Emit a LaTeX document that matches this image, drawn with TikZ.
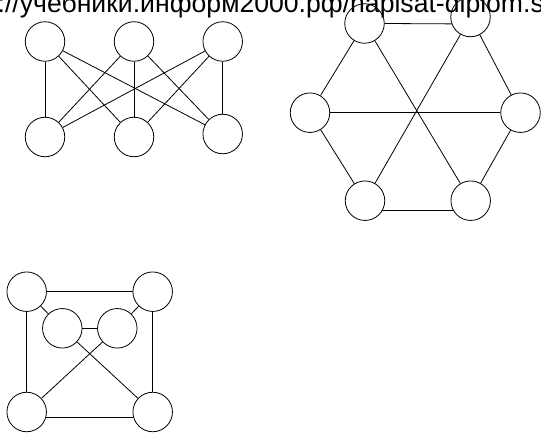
\documentclass[tikz,border=0pt]{standalone}
\usepackage{fontspec}
\newfontfamily\wmfont{Liberation Sans}
\begin{document}
\begin{tikzpicture}[x=1pt,y=-1pt,
  v/.style={circle,draw,minimum size=39.5pt,inner sep=0pt,line width=0.8pt},
  e/.style={line width=0.8pt}]
\useasboundingbox (0,0) rectangle (541,433);
\clip (0,0) rectangle (541,433);
% graph 1 (K3,3)
\node[v] (a1) at (45,41.5) {};
\node[v] (a2) at (134,41.5) {};
\node[v] (a3) at (222.7,41.5) {};
\node[v] (b1) at (45,137) {};
\node[v] (b2) at (134,137) {};
\node[v] (b3) at (222.7,134) {};
\foreach \i in {a1,a2,a3} {\foreach \j in {b1,b2,b3} {\draw[e] (\i) -- (\j);}}
% graph 2 (hexagon)
\node[v] (h1) at (364.5,23.5) {};
\node[v] (h2) at (470.5,17) {};
\node[v] (h3) at (520.5,112.7) {};
\node[v] (h4) at (470.7,200.7) {};
\node[v] (h5) at (365,200.7) {};
\node[v] (h6) at (310,112.7) {};
\draw[e] (h1.0) -- (h2.200);
\draw[e] (h5.-30) -- (h4.210);
\draw[e] (h2) -- (h3);
\draw[e] (h3) -- (h4);
\draw[e] (h5) -- (h6);
\draw[e] (h6) -- (h1);
\draw[e] (h1) -- (h4);
\draw[e] (h2) -- (h5);
\draw[e] (h6) -- (h3);
% graph 3
\node[v] (c1) at (26.7,291.7) {};
\node[v] (c2) at (152.7,291.7) {};
\node[v] (c3) at (62.3,328.3) {};
\node[v] (c4) at (117.3,328.3) {};
\node[v] (c5) at (26.7,412) {};
\node[v] (c6) at (152.7,412) {};
\draw[e] (c1) -- (c2);
\draw[e] (c1) -- (c5);
\draw[e] (c2) -- (c6);
\draw[e] (c5.-16) -- (c6.196);
\draw[e] (c1) -- (c3);
\draw[e] (c2) -- (c4);
\draw[e] (c3) -- (c4);
\draw[e] (c3) -- (c6);
\draw[e] (c4) -- (c5);
% watermark text
\node[anchor=base west,inner sep=0pt,font=\wmfont\fontsize{26.6pt}{30pt}\selectfont] (wm) at (-2.5,13) {://учебники.информ2000.рф/napisat-diplom.s};
\end{tikzpicture}
\end{document}
